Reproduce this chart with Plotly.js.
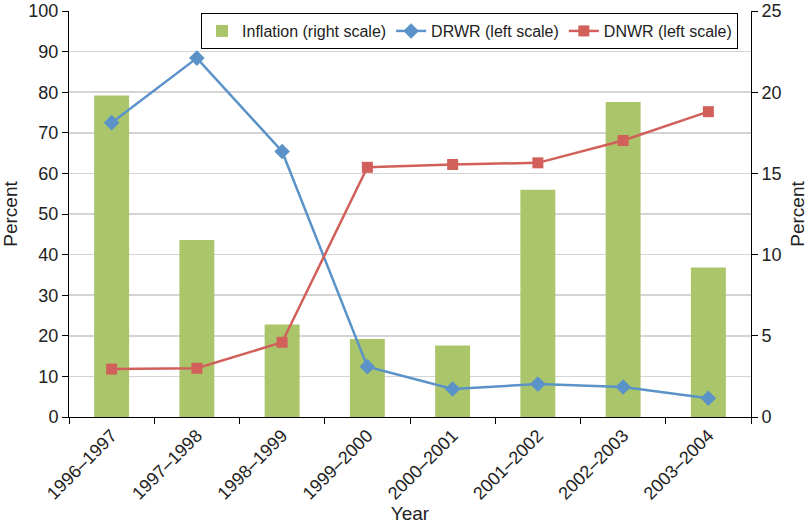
<!DOCTYPE html>
<html>
<head>
<meta charset="utf-8">
<script src="https://cdn.plot.ly/plotly-3.0.1.min.js"></script>
<style>html,body{margin:0;padding:0;background:#fff;}#chart{width:811px;height:530px;}</style>
</head>
<body>
<div id="chart"></div>
<script>
const years = ["1996\u20131997","1997\u20131998","1998\u20131999","1999\u20132000","2000\u20132001","2001\u20132002","2002\u20132003","2003\u20132004"];
const inflation = [19.8, 10.9, 5.7, 4.8, 4.4, 14.0, 19.4, 9.2];
const drwr = [72.5, 88.4, 65.4, 12.4, 6.9, 8.1, 7.4, 4.6];
const dnwr = [11.8, 12.0, 18.4, 61.5, 62.2, 62.6, 68.1, 75.2];

const font = "Liberation Sans, Arial, sans-serif";
const traces = [
  {type:"bar", x:years, y:inflation, name:"Inflation (right scale)", yaxis:"y",
   marker:{color:"#abc56b"}, width:0.41},
  {type:"scatter", mode:"lines+markers", x:years, y:drwr, name:"DRWR (left scale)", yaxis:"y2",
   line:{color:"#5b93c9", width:2.5}, marker:{symbol:"diamond", size:12, color:"#5b93c9"}},
  {type:"scatter", mode:"lines+markers", x:years, y:dnwr, name:"DNWR (left scale)", yaxis:"y2",
   line:{color:"#d2605a", width:2.5}, marker:{symbol:"square", size:11, color:"#d2605a"}}
];
const layout = {
  width:811, height:530,
  margin:{l:69, r:60, t:11, b:113},
  paper_bgcolor:"#fff", plot_bgcolor:"#fff",
  font:{family:font, size:17, color:"#222"},
  showlegend:true,
  legend:{orientation:"h", x:0.981, xanchor:"right", y:0.995, yanchor:"top",
    bordercolor:"#000", borderwidth:1, bgcolor:"#fff", font:{size:16, color:"#222"},
    itemwidth:30, tracegroupgap:0},
  xaxis:{type:"category", tickangle:-45, tickson:"boundaries", ticks:"outside", ticklen:6,
    tickcolor:"#000", showline:true, linecolor:"#000", linewidth:1, showgrid:false,
    tickfont:{size:18}, title:{text:"Year", font:{size:19}, standoff:4}},
  yaxis:{side:"right", range:[0,25], dtick:5, showgrid:false, ticks:"outside", ticklen:6,
    tickcolor:"#000", showline:true, linecolor:"#000", linewidth:1, zeroline:false,
    tickfont:{size:18},
    title:{text:"Percent", font:{size:19}, standoff:10}},
  yaxis2:{side:"left", overlaying:"y", range:[0,100], dtick:10, showgrid:true, gridcolor:"#d4d4d4",
    gridwidth:1.5, ticks:"outside", ticklen:6, tickcolor:"#000", showline:true, linecolor:"#000",
    linewidth:1, zeroline:false, tickfont:{size:18},
    title:{text:"Percent", font:{size:19}, standoff:6}}
};
Plotly.newPlot("chart", traces, layout, {displayModeBar:false, staticPlot:true});
</script>
</body>
</html>
